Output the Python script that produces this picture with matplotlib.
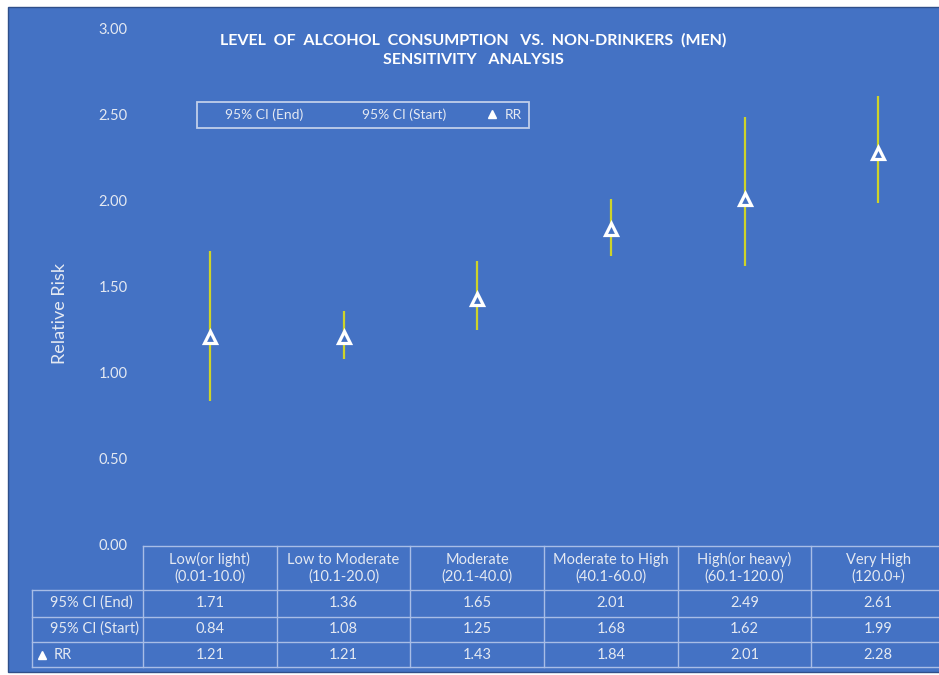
import matplotlib
matplotlib.use("Agg")
import matplotlib.pyplot as plt
from matplotlib.lines import Line2D
from matplotlib.patches import Rectangle

# ---- data ----
categories = ["Low(or light)\n(0.01-10.0)", "Low to Moderate\n(10.1-20.0)",
              "Moderate\n(20.1-40.0)", "Moderate to High\n(40.1-60.0)",
              "High(or heavy)\n(60.1-120.0)", "Very High\n(120.0+)"]
ci_end = [1.71, 1.36, 1.65, 2.01, 2.49, 2.61]
ci_start = [0.84, 1.08, 1.25, 1.68, 1.62, 1.99]
rr = [1.21, 1.21, 1.43, 1.84, 2.01, 2.28]
yticks = [0.0, 0.5, 1.0, 1.5, 2.0, 2.5, 3.0]

# ---- style ----
W, H = 939, 675
BLUE = "#4472C4"
TXT = "#e4e9f2"
GRID = "#a8bde6"
YELLOW = "#cdd32a"
FONT = "Lato"
FS = 10.5

plt.rcParams["font.family"] = [FONT, "DejaVu Sans"]

fig = plt.figure(figsize=(W / 100, H / 100), dpi=100)
fig.patch.set_facecolor("white")


def fx(px):
    return px / W


def fy(py):
    return 1 - py / H


# blue chart area with a thin outline
fig.patches.append(Rectangle((fx(8), fy(672)), fx(940) - fx(8), fy(7) - fy(672),
                             transform=fig.transFigure, facecolor=BLUE,
                             edgecolor="#2f4f8a", linewidth=1.0, zorder=-5))

left, right, top, bottom = 143, 945, 29, 545
ax = fig.add_axes([fx(left), fy(bottom), fx(right) - fx(left), fy(top) - fy(bottom)])
ax.set_facecolor("none")
ax.set_zorder(2)
for s in ax.spines.values():
    s.set_visible(False)

n = len(categories)
xs = list(range(n))
ax.set_xlim(-0.5, n - 0.5)
ax.set_ylim(0, 3)
ax.set_xticks([])
ax.set_yticks(yticks)
ax.set_yticklabels([f"{v:.2f}" for v in yticks], color=TXT, fontsize=FS)
ax.tick_params(axis="y", length=0, pad=11)

# confidence interval bars and RR markers
ax.vlines(xs, ci_start, ci_end, color=YELLOW, linewidth=1.6, zorder=2)
ax.plot(xs, rr, linestyle="none", marker="^", markersize=8,
        markerfacecolor=BLUE, markeredgecolor="white", markeredgewidth=2.3, zorder=3)

# axis title
fig.text(fx(60), fy(314), "Relative Risk", rotation=90, ha="center", va="center",
         color=TXT, fontsize=13)

# chart title
fig.text(fx(473), fy(40), "LEVEL  OF  ALCOHOL  CONSUMPTION   VS.  NON-DRINKERS  (MEN)",
         ha="center", va="center", color="white", fontsize=11.5, fontweight="bold")
fig.text(fx(473), fy(60), "SENSITIVITY   ANALYSIS", ha="center", va="center",
         color="white", fontsize=11.5, fontweight="bold")

# legend
handles = [Line2D([], [], linestyle="none"),
           Line2D([], [], linestyle="none"),
           Line2D([], [], linestyle="none", marker="^", markersize=6,
                  markerfacecolor="white", markeredgecolor="white")]
leg = fig.legend(handles, ["95% CI (End)", "95% CI (Start)", "RR"], ncol=3,
                 loc="center", bbox_to_anchor=(fx(363), fy(115)),
                 frameon=True, fontsize=10, handlelength=1.2, handletextpad=0.3,
                 columnspacing=2.7, borderpad=0.5, fancybox=False)
leg.get_frame().set_facecolor("none")
leg.get_frame().set_edgecolor("#dfe6f4")
leg.get_frame().set_linewidth(1.3)
for t in leg.get_texts():
    t.set_color(TXT)

# data table beneath the plot
col_w = (right - left) / n
row_lines = [546, 590, 617, 642, 667]
lab_left = 32
lk = dict(transform=fig.transFigure, color=GRID, linewidth=1.0, zorder=1)
fig.add_artist(Line2D([fx(left), fx(W)], [fy(row_lines[0])] * 2, **lk))
for yy in row_lines[1:]:
    fig.add_artist(Line2D([fx(lab_left), fx(W)], [fy(yy)] * 2, **lk))
fig.add_artist(Line2D([fx(lab_left)] * 2, [fy(row_lines[1]), fy(row_lines[-1])], **lk))
for i in range(n + 1):
    xb = left + i * col_w
    fig.add_artist(Line2D([fx(xb)] * 2, [fy(row_lines[0]), fy(row_lines[-1])], **lk))

for i, cat in enumerate(categories):
    xc = fx(left + (i + 0.5) * col_w)
    fig.text(xc, fy(568), cat, ha="center", va="center", color=TXT, fontsize=FS,
             linespacing=1.2)
    for vals, yc in ((ci_end, 603), (ci_start, 629), (rr, 655)):
        fig.text(xc, fy(yc), f"{vals[i]:.2f}", ha="center", va="center",
                 color=TXT, fontsize=FS)

fig.text(fx(50), fy(603), "95% CI (End)", ha="left", va="center", color=TXT, fontsize=FS)
fig.text(fx(50), fy(629), "95% CI (Start)", ha="left", va="center", color=TXT, fontsize=FS)
fig.add_artist(Line2D([fx(42)], [fy(655)], transform=fig.transFigure, linestyle="none",
                      marker="^", markersize=6, markerfacecolor="white",
                      markeredgecolor="white"))
fig.text(fx(54), fy(655), "RR", ha="left", va="center", color=TXT, fontsize=FS)

fig.savefig("out.png", dpi=100, facecolor=fig.get_facecolor())
